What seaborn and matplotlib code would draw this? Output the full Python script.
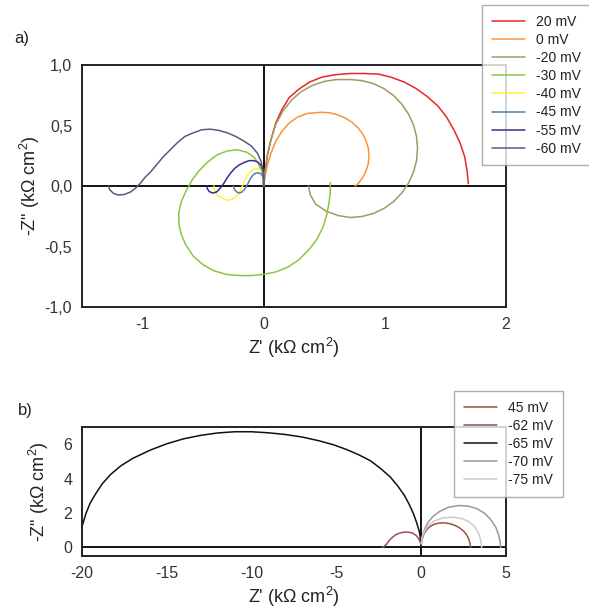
import numpy as np
import pandas as pd
import matplotlib
matplotlib.use("Agg")
import matplotlib.pyplot as plt
import seaborn as sns
from matplotlib.ticker import FuncFormatter

# panel a: Nyquist curves (Z', -Z'') in kOhm cm2
a_labels = ["20 mV", "0 mV", "-20 mV", "-30 mV", "-40 mV", "-45 mV", "-55 mV", "-60 mV"]
a_colors = ["#e8262a", "#f7943a", "#a09a62", "#8cc63f", "#fff23a", "#4f81a6", "#3b2c8c", "#5a5a80"]

a_x_20 = [0, 0.01, 0.03, 0.06, 0.10, 0.15, 0.21, 0.29, 0.38, 0.48, 0.59, 0.71, 0.83, 0.95, 1.05,
          1.16, 1.26, 1.35, 1.44, 1.51, 1.57, 1.62, 1.66, 1.68, 1.69]
a_y_20 = [0, 0.10, 0.25, 0.38, 0.52, 0.63, 0.73, 0.80, 0.86, 0.90, 0.92, 0.93, 0.93, 0.925, 0.90,
          0.86, 0.805, 0.74, 0.66, 0.57, 0.465, 0.36, 0.24, 0.12, 0.02]

a_x_0 = [0, 0.01, 0.03, 0.06, 0.10, 0.15, 0.21, 0.28, 0.36, 0.48, 0.548, 0.613, 0.675, 0.731,
         0.779, 0.818, 0.846, 0.864, 0.87, 0.864, 0.846, 0.818, 0.779, 0.756]
a_y_0 = [0, 0.07, 0.17, 0.27, 0.37, 0.45, 0.52, 0.57, 0.60, 0.61, 0.605, 0.588, 0.562, 0.526,
         0.481, 0.43, 0.373, 0.313, 0.25, 0.187, 0.127, 0.07, 0.019, 0.0]

a_x_m20 = [0, 0.01, 0.03, 0.06, 0.10, 0.16, 0.23, 0.31, 0.40, 0.50, 0.60, 0.72, 0.815, 0.908,
           0.995, 1.074, 1.141, 1.196, 1.237, 1.262, 1.27, 1.262, 1.237, 1.196, 1.141, 1.074,
           0.995, 0.908, 0.815, 0.72, 0.62, 0.52, 0.43, 0.386, 0.37]
a_y_m20 = [0, 0.10, 0.25, 0.38, 0.51, 0.62, 0.71, 0.78, 0.83, 0.865, 0.88, 0.88, 0.871, 0.846,
           0.804, 0.747, 0.676, 0.595, 0.505, 0.409, 0.31, 0.211, 0.115, 0.025, -0.056, -0.127,
           -0.184, -0.226, -0.251, -0.26, -0.245, -0.21, -0.15, -0.074, 0.0]

a_x_m30 = [0, -0.01, -0.04, -0.08, -0.14, -0.22, -0.30, -0.38, -0.46, -0.53, -0.59, -0.64, -0.68,
           -0.70, -0.70, -0.68, -0.64, -0.58, -0.50, -0.41, -0.31, -0.20, -0.10, 0.0, 0.10, 0.20,
           0.29, 0.37, 0.44, 0.49, 0.52, 0.54, 0.55, 0.55]
a_y_m30 = [0.0, 0.10, 0.18, 0.24, 0.28, 0.30, 0.29, 0.26, 0.20, 0.13, 0.05, -0.04, -0.13,
           -0.22, -0.31, -0.40, -0.49, -0.58, -0.65, -0.70, -0.73, -0.74, -0.74, -0.73, -0.71, -0.67,
           -0.61, -0.53, -0.44, -0.34, -0.24, -0.14, -0.05, 0.03]

a_x_m40 = [0, 0, -0.02, -0.05, -0.08, -0.11, -0.135, -0.155, -0.175, -0.20, -0.23, -0.26, -0.29,
           -0.32, -0.35, -0.38, -0.40, -0.41, -0.41]
a_y_m40 = [0.0, 0.10, 0.13, 0.145, 0.14, 0.12, 0.09, 0.05, 0.0, -0.05, -0.09, -0.11, -0.117,
           -0.11, -0.095, -0.075, -0.045, -0.015, 0.0]

a_x_m45 = [0, 0, -0.02, -0.05, -0.08, -0.10, -0.12, -0.14, -0.16, -0.18, -0.20, -0.22, -0.24, -0.25]
a_y_m45 = [0.0, 0.07, 0.10, 0.11, 0.10, 0.075, 0.04, 0.0, -0.03, -0.05, -0.058, -0.05, -0.03, 0.0]

a_x_m55 = [0, 0, -0.02, -0.05, -0.08, -0.12, -0.16, -0.20, -0.24, -0.27, -0.30, -0.33, -0.36,
           -0.39, -0.42, -0.45, -0.465, -0.47]
a_y_m55 = [0.0, 0.10, 0.17, 0.20, 0.21, 0.21, 0.195, 0.175, 0.145, 0.11, 0.07, 0.02, -0.02,
           -0.05, -0.058, -0.045, -0.02, 0.0]

a_x_m60 = [0, 0, -0.02, -0.05, -0.10, -0.16, -0.23, -0.30, -0.37, -0.44, -0.51, -0.58, -0.65,
           -0.71, -0.77, -0.83, -0.88, -0.93, -0.98, -1.02, -1.06, -1.10, -1.15, -1.20, -1.24,
           -1.27, -1.28]
a_y_m60 = [0.0, 0.10, 0.20, 0.27, 0.33, 0.37, 0.41, 0.44, 0.46, 0.47, 0.465, 0.44, 0.41,
           0.36, 0.30, 0.24, 0.18, 0.12, 0.07, 0.02, -0.02, -0.05, -0.07, -0.074, -0.06,
           -0.03, 0.0]

# panel b
b_labels = ["45 mV", "-62 mV", "-65 mV", "-70 mV", "-75 mV"]
b_colors = ["#a0523a", "#9a4a6a", "#111111", "#999999", "#cccccc"]

b_x_45 = [0, 0.05, 0.15, 0.3, 0.5, 0.75, 1.0, 1.31, 1.6, 1.9, 2.2, 2.45, 2.65, 2.8, 2.88, 2.92]
b_y_45 = [0.1, 0.45, 0.75, 1.0, 1.2, 1.34, 1.41, 1.43, 1.40, 1.32, 1.18, 1.0, 0.78, 0.5, 0.25, 0.0]

b_x_m62 = [0, -0.05, -0.15, -0.3, -0.5, -0.75, -1.0, -1.25, -1.5, -1.7, -1.9, -2.05, -2.2, -2.3]
b_y_m62 = [0.05, 0.3, 0.52, 0.7, 0.83, 0.89, 0.89, 0.84, 0.74, 0.58, 0.38, 0.18, 0.05, 0.0]

b_x_m65 = [0, -0.02, -0.1, -0.25, -0.45, -0.7, -1.0, -1.4, -1.82, -2.4, -3.0, -3.7, -4.4, -5.16,
           -6.0, -7.0, -8.0, -9.0, -10.0, -11.0, -12.0, -13.0, -14.0, -15.0, -16.0, -17.0, -17.7,
           -18.3, -18.8, -19.2, -19.5, -19.75, -19.92, -20.05]
b_y_m65 = [0, 0.4, 0.9, 1.4, 1.95, 2.5, 3.05, 3.6, 4.1, 4.6, 5.05, 5.4, 5.7, 5.97,
           6.2, 6.42, 6.57, 6.67, 6.73, 6.73, 6.66, 6.52, 6.32, 6.03, 5.65, 5.18, 4.75,
           4.25, 3.7, 3.1, 2.6, 2.0, 1.45, 1.0]

b_x_m70 = [0, 0.05, 0.2, 0.4, 0.7, 1.1, 1.6, 2.2, 2.8, 3.3, 3.75, 4.1, 4.4, 4.58, 4.66, 4.69]
b_y_m70 = [0.2, 0.6, 1.05, 1.45, 1.8, 2.1, 2.33, 2.44, 2.4, 2.25, 1.98, 1.62, 1.18, 0.7, 0.3, 0.0]

b_x_m75 = [0, 0.05, 0.2, 0.45, 0.8, 1.3, 1.9, 2.4, 2.85, 3.2, 3.42, 3.53, 3.57]
b_y_m75 = [0.2, 0.55, 0.95, 1.3, 1.55, 1.72, 1.76, 1.68, 1.48, 1.15, 0.75, 0.35, 0.0]

a_xs = [a_x_20, a_x_0, a_x_m20, a_x_m30, a_x_m40, a_x_m45, a_x_m55, a_x_m60]
a_ys = [a_y_20, a_y_0, a_y_m20, a_y_m30, a_y_m40, a_y_m45, a_y_m55, a_y_m60]
b_xs = [b_x_45, b_x_m62, b_x_m65, b_x_m70, b_x_m75]
b_ys = [b_y_45, b_y_m62, b_y_m65, b_y_m70, b_y_m75]


def to_frame(xs, ys, labels):
    parts = []
    for x, y, lab in zip(xs, ys, labels):
        parts.append(pd.DataFrame({"x": x, "y": y, "series": lab}))
    return pd.concat(parts, ignore_index=True)


df_a = to_frame(a_xs, a_ys, a_labels)
df_b = to_frame(b_xs, b_ys, b_labels)

sns.set_style("white")
plt.rcParams["font.family"] = ["Liberation Sans", "DejaVu Sans"]
plt.rcParams["mathtext.fontset"] = "custom"
plt.rcParams["mathtext.rm"] = "Liberation Sans"
plt.rcParams["mathtext.it"] = "Liberation Sans:italic"
plt.rcParams["axes.unicode_minus"] = False

fig = plt.figure(figsize=(5.89, 6.08), dpi=100)
ax_a = fig.add_axes([0.139, 0.495, 0.720, 0.398])
ax_b = fig.add_axes([0.139, 0.0855, 0.720, 0.212])

comma = FuncFormatter(lambda v, p: f"{v:.1f}".replace(".", ","))

for ax, df, labels, colors in [(ax_a, df_a, a_labels, a_colors), (ax_b, df_b, b_labels, b_colors)]:
    ax.axhline(0, color="black", lw=1.3, zorder=1)
    ax.axvline(0, color="black", lw=1.3, zorder=1)
    sns.lineplot(data=df, x="x", y="y", hue="series", hue_order=labels,
                 palette=colors, sort=False, estimator=None, lw=1.1, ax=ax)
    for s in ax.spines.values():
        s.set_color("#222222")
        s.set_linewidth(1.4)
    ax.tick_params(direction="in", length=3, color="#888888", labelsize=11.5,
                   labelcolor="#333333", pad=7)
    ax.set_xlabel("Z' (k$\\Omega$ cm$^2$)", fontsize=13, color="#222222", labelpad=3)
    ax.set_ylabel('-Z" (k$\\Omega$ cm$^2$)', fontsize=13, color="#222222")

ax_a.set_xlim(-1.5, 2)
ax_a.set_ylim(-1.0, 1.0)
ax_a.set_xticks([-1, 0, 1, 2])
ax_a.set_yticks([-1.0, -0.5, 0.0, 0.5, 1.0])
ax_a.yaxis.set_major_formatter(comma)
ax_a.yaxis.set_label_coords(-0.094, 0.5)

ax_b.set_xlim(-20, 5)
ax_b.set_ylim(-0.5, 7)
ax_b.set_xticks([-20, -15, -10, -5, 0, 5])
ax_b.set_yticks([0, 2, 4, 6])
ax_b.yaxis.set_label_coords(-0.072, 0.5)

leg_a = ax_a.legend(loc="upper left", bbox_to_anchor=(0.818, 0.992), bbox_transform=fig.transFigure,
                    fontsize=10, frameon=True, fancybox=False, edgecolor="#999999",
                    handlelength=2.4, labelspacing=0.3, borderpad=0.7, borderaxespad=0)
leg_b = ax_b.legend(loc="upper left", bbox_to_anchor=(0.771, 0.357), bbox_transform=fig.transFigure,
                    fontsize=10, frameon=True, fancybox=False, edgecolor="#999999",
                    handlelength=2.4, labelspacing=0.3, borderpad=0.7, borderaxespad=0)
for leg in (leg_a, leg_b):
    leg.get_frame().set_linewidth(1.0)
    leg.set_zorder(5)
    for t in leg.get_texts():
        t.set_color("#222222")

fig.text(0.025, 0.93, "a)", fontsize=12, color="#222222")
fig.text(0.03, 0.318, "b)", fontsize=12, color="#222222")

fig.savefig("out.png", dpi=100)
